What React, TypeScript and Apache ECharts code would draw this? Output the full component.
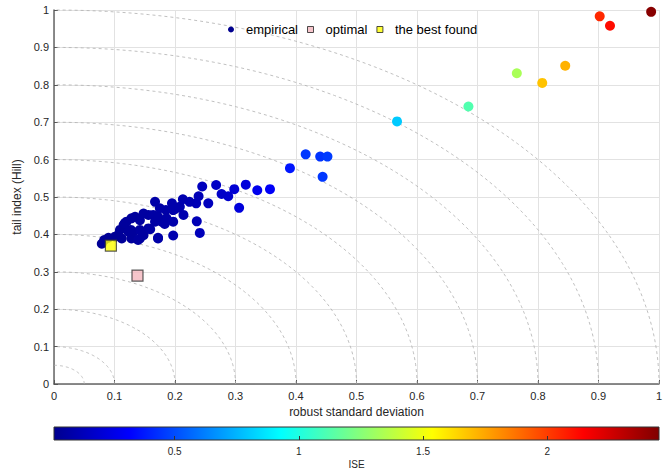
import React, { useEffect, useRef } from "react";
import * as echarts from "echarts";

const empiricalX = [
  0.987, 0.902, 0.919, 0.845, 0.807, 0.765, 0.685, 0.567, 0.416, 0.44, 0.452, 0.444, 0.39,
  0.357, 0.336, 0.317, 0.298, 0.306, 0.288, 0.277, 0.268, 0.245, 0.239, 0.255, 0.235, 0.224,
  0.213, 0.208, 0.214, 0.236, 0.241, 0.197, 0.172, 0.195, 0.2, 0.185, 0.175, 0.167, 0.156,
  0.148, 0.164, 0.142, 0.134, 0.128, 0.12, 0.115, 0.109, 0.106, 0.112, 0.101, 0.09, 0.083,
  0.079, 0.128, 0.142, 0.148, 0.131, 0.123, 0.156, 0.142, 0.159, 0.167, 0.178, 0.186, 0.172,
  0.183, 0.197, 0.172, 0.197, 0.206, 0.117, 0.127, 0.139,
];
const empiricalY = [
  0.995, 0.983, 0.958, 0.851, 0.805, 0.831, 0.742, 0.702, 0.614, 0.608, 0.608, 0.554, 0.577,
  0.521, 0.518, 0.533, 0.521, 0.471, 0.502, 0.508, 0.532, 0.528, 0.502, 0.483, 0.483, 0.487,
  0.494, 0.474, 0.452, 0.435, 0.404, 0.397, 0.389, 0.483, 0.468, 0.465, 0.47, 0.487, 0.452,
  0.456, 0.452, 0.438, 0.447, 0.443, 0.434, 0.425, 0.412, 0.398, 0.389, 0.394, 0.391, 0.385,
  0.375, 0.389, 0.389, 0.398, 0.407, 0.407, 0.416, 0.412, 0.414, 0.434, 0.434, 0.443, 0.447,
  0.428, 0.434, 0.391, 0.465, 0.472, 0.43, 0.412, 0.385,
];
const empiricalISE = [
  2.43, 2.05, 2.12, 1.72, 1.68, 1.33, 1.12, 0.8, 0.45, 0.44, 0.46, 0.45, 0.37,
  0.3, 0.27, 0.22, 0.2, 0.22, 0.18, 0.17, 0.16, 0.14, 0.12, 0.14, 0.12, 0.11,
  0.1, 0.1, 0.1, 0.12, 0.13, 0.1, 0.08, 0.09, 0.09, 0.08, 0.08, 0.08, 0.06,
  0.06, 0.07, 0.06, 0.05, 0.05, 0.05, 0.04, 0.04, 0.04, 0.04, 0.03, 0.03, 0.03,
  0.03, 0.05, 0.06, 0.06, 0.05, 0.05, 0.06, 0.06, 0.07, 0.07, 0.08, 0.08, 0.07,
  0.08, 0.09, 0.08, 0.09, 0.09, 0.05, 0.05, 0.06,
];
const optimalPoint = [0.138, 0.29];
const bestFoundPoint = [0.094, 0.37];
const arcRadii = [0.05, 0.1, 0.2, 0.3, 0.4, 0.5, 0.6, 0.7, 0.8, 0.9, 1.0];
const colorbarTicks = [0.5, 1, 1.5, 2];
const iseMin = 0.014;
const iseMax = 2.45;
const jetColors = [
  "#00008F", "#0000FF", "#0080FF", "#00FFFF", "#80FF80", "#FFFF00", "#FF8000", "#FF0000", "#800000",
];

const FONT = "'Liberation Sans', Arial, sans-serif";
const SQUARE_ICON = "path://M0 0L10 0L10 10L0 10Z";

export default function App() {
  const ref = useRef<HTMLDivElement>(null);
  useEffect(() => {
    if (!ref.current) return;
    const chart = echarts.init(ref.current, undefined, { renderer: "svg" });
    const gradient = new echarts.graphic.LinearGradient(
      0, 0, 1, 0,
      jetColors.map((c, i) => ({ offset: i / (jetColors.length - 1), color: c }))
    );
    const empiricalData = empiricalX.map((x, i) => [x, empiricalY[i], empiricalISE[i]]);
    const option: any = {
      animation: false,
      backgroundColor: "#fff",
      textStyle: { fontFamily: FONT },
      grid: [
        { left: 54, top: 10, width: 605, height: 374, containLabel: false },
        {
          left: 54, top: 427, width: 605, height: 13, show: true,
          backgroundColor: gradient, borderColor: "#333", borderWidth: 1,
        },
      ],
      xAxis: [
        {
          type: "value", gridIndex: 0, min: 0, max: 1, interval: 0.1,
          name: "robust standard deviation", nameLocation: "middle", nameGap: 20,
          nameTextStyle: { fontSize: 12, color: "#262626", fontFamily: FONT },
          axisLine: { show: true, onZero: false, lineStyle: { color: "#666", width: 1.5 } },
          axisTick: { show: true, inside: true, length: 4, lineStyle: { color: "#555" } },
          axisLabel: { fontSize: 11, color: "#262626", margin: 6, fontFamily: FONT },
          splitLine: { show: true, lineStyle: { color: "#e2e2e2", width: 1 } },
        },
        {
          type: "value", gridIndex: 1, min: iseMin, max: iseMax,
          name: "ISE", nameLocation: "middle", nameGap: 19,
          nameTextStyle: { fontSize: 10, color: "#262626", fontFamily: FONT },
          axisLine: { show: false },
          axisTick: {
            show: true, inside: true, length: 4, customValues: colorbarTicks,
            lineStyle: { color: "#333" },
          },
          axisLabel: {
            fontSize: 10, color: "#262626", margin: 6, customValues: colorbarTicks,
            fontFamily: FONT,
          },
          splitLine: { show: false },
        },
      ],
      yAxis: [
        {
          type: "value", gridIndex: 0, min: 0, max: 1, interval: 0.1,
          name: "tail index (Hill)", nameLocation: "middle", nameGap: 26,
          nameTextStyle: { fontSize: 12, color: "#262626", fontFamily: FONT },
          axisLine: { show: true, onZero: false, lineStyle: { color: "#666", width: 1.5 } },
          axisTick: { show: true, inside: true, length: 4, lineStyle: { color: "#555" } },
          axisLabel: { fontSize: 11, color: "#262626", margin: 5, fontFamily: FONT },
          splitLine: { show: true, lineStyle: { color: "#e2e2e2", width: 1 } },
        },
        { type: "value", gridIndex: 1, min: 0, max: 1, show: false },
      ],
      visualMap: {
        show: false, type: "continuous", seriesIndex: 1, dimension: 2,
        min: iseMin, max: iseMax, inRange: { color: jetColors },
      },
      legend: {
        left: 223, top: 18, orient: "horizontal",
        itemWidth: 20, itemHeight: 6, itemGap: 9, symbolKeepAspect: true,
        textStyle: { fontSize: 13, color: "#000", fontFamily: FONT },
        data: [
          { name: "empirical", icon: "circle", itemStyle: { color: "#00008F", borderWidth: 0 } },
          { name: "optimal", icon: SQUARE_ICON, itemStyle: { color: "#F4B6BE", borderColor: "#222", borderWidth: 1 } },
          { name: "the best found", icon: SQUARE_ICON, itemStyle: { color: "#FFFF00", borderColor: "#222", borderWidth: 1 } },
        ],
      },
      series: [
        {
          type: "custom", name: "arcs", xAxisIndex: 0, yAxisIndex: 0, silent: true, z: 1,
          data: arcRadii.map((r) => [r]),
          encode: { x: 0 },
          renderItem: (params: any, api: any) => {
            const r = api.value(0);
            const pts: number[][] = [];
            const n = 90;
            for (let i = 0; i <= n; i++) {
              const a = (i / n) * (Math.PI / 2);
              pts.push(api.coord([r * Math.cos(a), r * Math.sin(a)]));
            }
            return {
              type: "polyline",
              shape: { points: pts },
              style: { stroke: "#b0b0b0", lineWidth: 0.8, lineDash: [3, 3], fill: null },
            };
          },
        },
        {
          type: "scatter", name: "empirical", xAxisIndex: 0, yAxisIndex: 0, z: 3,
          symbol: "circle", symbolSize: 10,
          itemStyle: { color: "#00008F", opacity: 1 },
          data: empiricalData,
        },
        {
          type: "scatter", name: "optimal", xAxisIndex: 0, yAxisIndex: 0, z: 4,
          symbol: "rect", symbolSize: 11,
          itemStyle: { color: "#F4B6BE", borderColor: "#333", borderWidth: 1.2 },
          data: [optimalPoint],
        },
        {
          type: "scatter", name: "the best found", xAxisIndex: 0, yAxisIndex: 0, z: 5,
          symbol: "rect", symbolSize: 11,
          itemStyle: { color: "#FFFF00", borderColor: "#333", borderWidth: 1.2 },
          data: [bestFoundPoint],
        },
      ],
    };
    chart.setOption(option);
    return () => chart.dispose();
  }, []);
  return (
    <div
      ref={ref}
      style={{ position: "fixed", left: 0, top: 0, width: 668, height: 474 }}
    />
  );
}
